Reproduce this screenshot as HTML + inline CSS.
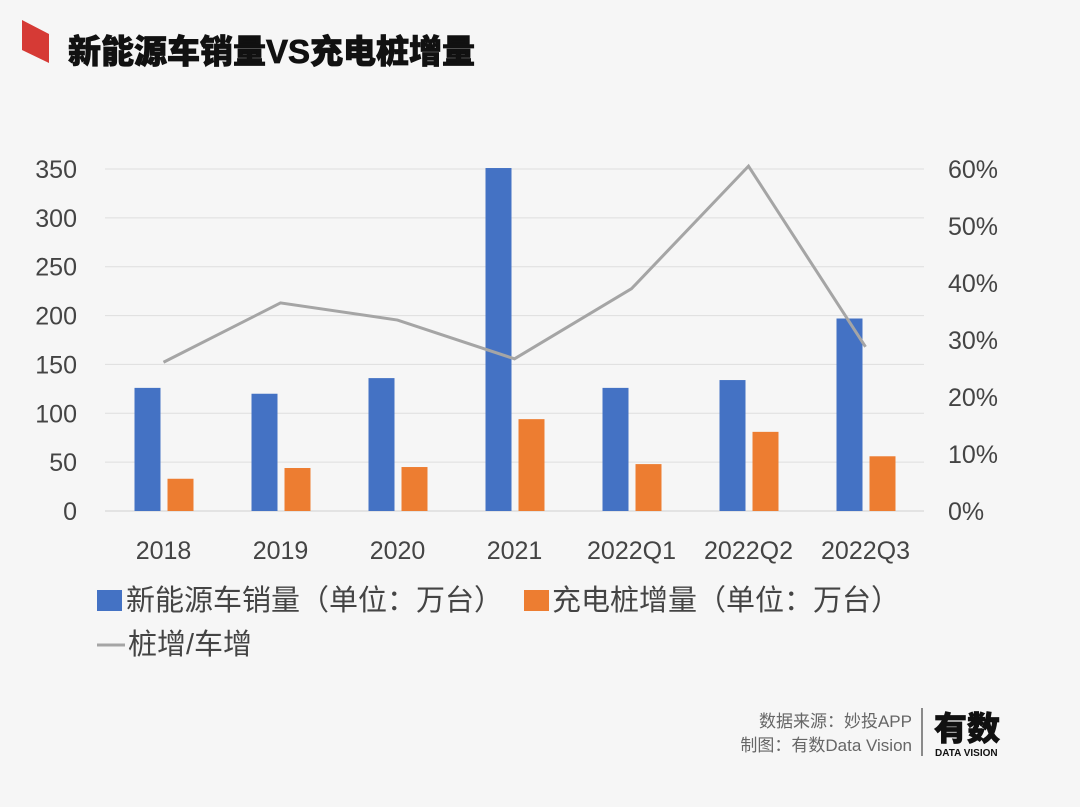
<!DOCTYPE html>
<html><head><meta charset="utf-8">
<style>
html,body{margin:0;padding:0;background:#f6f6f6;}
body{width:1080px;height:802px;overflow:hidden;font-family:"Liberation Sans","Noto Sans CJK SC",sans-serif;}
</style></head>
<body>
<svg id="chart" width="1080" height="802" viewBox="0 0 1080 802" xmlns="http://www.w3.org/2000/svg" font-family="Liberation Sans, Noto Sans CJK SC, sans-serif">
<polygon points="22,20 49,34 49,63 22,50" fill="#d63a35"/>
<text x="68" y="63" font-size="33" font-weight="900" fill="#111" stroke="#111" stroke-width="0.8">新能源车销量VS充电桩增量</text>
<g id="grid"></g>
<g id="bars"></g>
<g id="line"></g>
<g id="axes"></g>
<g font-size="29" fill="#444">
<rect x="97" y="590" width="25" height="21" fill="#4472c4"/>
<text x="126" y="610">新能源车销量（单位：万台）</text>
<rect x="524" y="590" width="25" height="21" fill="#ed7d31"/>
<text x="552" y="610">充电桩增量（单位：万台）</text>
<line x1="97" y1="645" x2="125" y2="645" stroke="#a5a5a5" stroke-width="3"/>
<text x="128" y="654">桩增/车增</text>
</g>
<g font-size="17" fill="#666" text-anchor="end">
<text x="912" y="727">数据来源：妙投APP</text>
<text x="912" y="751">制图：有数Data Vision</text>
</g>
<line x1="922" y1="708" x2="922" y2="756" stroke="#666" stroke-width="1.5"/>
<text x="934" y="740" font-size="33" font-weight="900" fill="#111" stroke="#111" stroke-width="0.8">有数</text>
<text x="935" y="756" font-size="10" font-weight="bold" fill="#111">DATA VISION</text>
</svg>
<script>
const categories=["2018","2019","2020","2021","2022Q1","2022Q2","2022Q3"];
const salesValues=[126,120,136,351,126,134,197];
const pileValues=[33,44,45,94,48,81,56];
const ratioValues=[26.1,36.5,33.5,26.7,39,60.5,28.8];
const leftTicks=[0,50,100,150,200,250,300,350];
const rightTicks=[0,10,20,30,40,50,60];
const NS="http://www.w3.org/2000/svg";
const X0=105,X1=924,Y0=511,Y1=169;
const step=(X1-X0)/categories.length;
const xC=i=>X0+step*(i+0.5);
const yL=v=>Y0-(v/350)*(Y0-Y1);
const yR=v=>Y0-(v/60)*(Y0-Y1);
function mk(tag,attrs,parent){const e=document.createElementNS(NS,tag);for(const k in attrs)e.setAttribute(k,attrs[k]);parent.appendChild(e);return e;}
const grid=document.getElementById('grid'),bars=document.getElementById('bars'),line=document.getElementById('line'),axes=document.getElementById('axes');
leftTicks.forEach(t=>{
  const l=mk('line',{x1:X0,x2:X1,y1:yL(t),y2:yL(t),stroke:t===0?'#d0d0d0':'#dedede','stroke-width':1},grid);
  
  
  const tx=mk('text',{x:77,y:yL(t)+9,'font-size':25,fill:'#444','text-anchor':'end'},axes);
  tx.textContent=t;
  
  
});
rightTicks.forEach(t=>{
  const tx=mk('text',{x:948,y:yR(t)+9,'font-size':25,fill:'#444'},axes);
  tx.textContent=t+'%';
  
  
});
categories.forEach((c,i)=>{
  const tx=mk('text',{x:xC(i),y:559,'font-size':25,fill:'#444','text-anchor':'middle'},axes);
  tx.textContent=c;
  
  
  const b=mk('rect',{x:xC(i)-29,y:yL(salesValues[i]),width:26,height:Y0-yL(salesValues[i]),fill:'#4472c4'},bars);
  
  
  const o=mk('rect',{x:xC(i)+4,y:yL(pileValues[i]),width:26,height:Y0-yL(pileValues[i]),fill:'#ed7d31'},bars);
  
  
});
const pl=mk('polyline',{points:ratioValues.map((v,i)=>xC(i)+','+yR(v)).join(' '),fill:'none',stroke:'#a5a5a5','stroke-width':3},line);


</script>
</body></html>
